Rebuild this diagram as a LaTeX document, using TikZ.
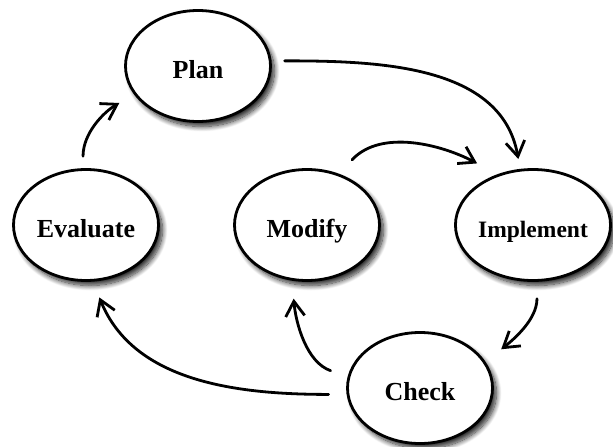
\documentclass[tikz,border=0pt]{standalone}
\usepackage{fontspec}
\setmainfont{Liberation Serif}
\usetikzlibrary{shapes.geometric,arrows.meta,shadows.blur}
\tikzset{
  stage/.style={ellipse, draw, line width=2.8pt, fill=white,
    minimum width=145pt, minimum height=111pt, inner sep=0pt,
    text height=24pt, text depth=0pt,
    font=\bfseries\fontsize{26}{30}\selectfont,
    blur shadow={shadow xshift=4pt, shadow yshift=-5pt, shadow blur radius=5pt, shadow opacity=85, shadow blur steps=12}},
  flow/.style={line width=2.8pt, line cap=round, line join=round,
    -{Straight Barb[length=15pt, width=19pt, line width=2.8pt]}}
}
\begin{document}
\begin{tikzpicture}[x=1pt, y=-1pt]
\useasboundingbox (0,0) rectangle (613,447);
\node[stage] (plan) at (198,66) {Plan};
\node[stage] (evaluate) at (86,225) {Evaluate};
\node[stage] (modify) at (307,225) {Modify};
\node[stage, font=\bfseries\fontsize{23.5}{28}\selectfont] (implement) at (533,225) {Implement};
\node[stage] (check) at (420,388) {Check};

\draw[flow, shorten <=13pt, shorten >=10pt] (plan.4) to[out=0, in=100] (implement.103);
\draw[flow, shorten <=19pt, shorten >=23pt] (modify.58) to[out=47, in=152] (implement.125);
\draw[flow, shorten <=17pt, shorten >=20pt] (implement.-86) to[out=-90, in=38] (check.22);
\draw[flow, shorten <=18pt, shorten >=18pt] (check.171) to[out=161, in=-85] (modify.-105);
\draw[flow, shorten <=18pt, shorten >=17pt] (check.185) to[out=180, in=-68] (evaluate.-83);
\draw[flow, shorten <=12pt, shorten >=17pt] (evaluate.93) to[out=90, in=210] (plan.204);
\end{tikzpicture}
\end{document}
